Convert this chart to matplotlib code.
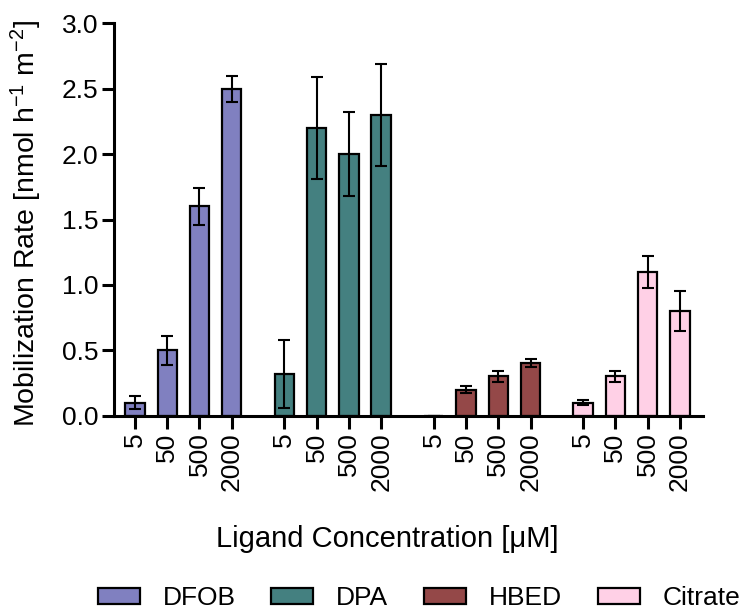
import numpy as np
import matplotlib.pyplot as plt
from matplotlib.patches import Patch

plt.rcParams['font.family'] = ['Liberation Sans', 'DejaVu Sans']
plt.rcParams['mathtext.fontset'] = 'custom'
plt.rcParams['mathtext.rm'] = 'Liberation Sans'
plt.rcParams['mathtext.it'] = 'Liberation Sans:italic'
plt.rcParams['mathtext.default'] = 'regular'

ligands = ['DFOB', 'DPA', 'HBED', 'Citrate']
concentrations = ['5', '50', '500', '2000']
colors = ['#8080c0', '#448080', '#944848', '#ffd0e6']

dfob = [0.10, 0.50, 1.60, 2.50]
dfob_err = [0.05, 0.11, 0.14, 0.10]
dpa = [0.32, 2.20, 2.00, 2.30]
dpa_err = [0.26, 0.39, 0.32, 0.39]
hbed = [0.0, 0.20, 0.30, 0.40]
hbed_err = [0.0, 0.03, 0.04, 0.03]
citrate = [0.10, 0.30, 1.10, 0.80]
citrate_err = [0.02, 0.04, 0.12, 0.15]

values = [dfob, dpa, hbed, citrate]
errors = [dfob_err, dpa_err, hbed_err, citrate_err]

fig = plt.figure(figsize=(7.43, 6.09), dpi=100)
ax = fig.add_axes([0.1534, 0.3174, 0.7926, 0.6443])

group_step = 4.63
xticks = []
xlabels = []
for g, (vals, errs) in enumerate(zip(values, errors)):
    x = np.arange(len(vals)) + g * group_step
    ax.bar(x, vals, width=0.6, color=colors[g], edgecolor='black', linewidth=1.6, zorder=2)
    ax.errorbar(x, vals, yerr=errs, fmt='none', ecolor='black', elinewidth=1.5,
                capsize=4, capthick=1.5, zorder=3)
    xticks.extend(x)
    xlabels.extend(concentrations)

ax.set_xticks(xticks)
ax.set_xticklabels(xlabels, rotation=90, fontsize=19)
ax.set_xlim(-0.65, 3 * group_step + 3 + 0.71)
ax.set_ylim(0, 3.0)
yt = np.arange(0, 3.01, 0.5)
ax.set_yticks(yt)
ax.set_yticklabels([f'{v:.1f}' for v in yt], fontsize=19)

for side in ['top', 'right']:
    ax.spines[side].set_visible(False)
for side in ['left', 'bottom']:
    ax.spines[side].set_linewidth(2.2)
ax.tick_params(axis='both', width=2.2, length=9, direction='out')
ax.tick_params(axis='x', pad=3)
ax.tick_params(axis='y', pad=2)

ax.set_ylabel('Mobilization Rate [nmol h$^{-1}$ m$^{-2}$]', fontsize=20.5, labelpad=13)
ax.yaxis.label.set_y(0.491)
ax.set_xlabel('Ligand Concentration [μM]', fontsize=21)
ax.xaxis.set_label_coords(0.464, -0.278)

handles = [Patch(facecolor=c, edgecolor='black', linewidth=1.6) for c in colors]
fig.legend(handles, ligands, loc='center', bbox_to_anchor=(0.564, 0.018), ncol=4,
           frameon=False, fontsize=19, handlelength=1.6, handleheight=0.55,
           columnspacing=1.34, handletextpad=0.87, borderpad=0)

fig.savefig('out.png', dpi=100)
